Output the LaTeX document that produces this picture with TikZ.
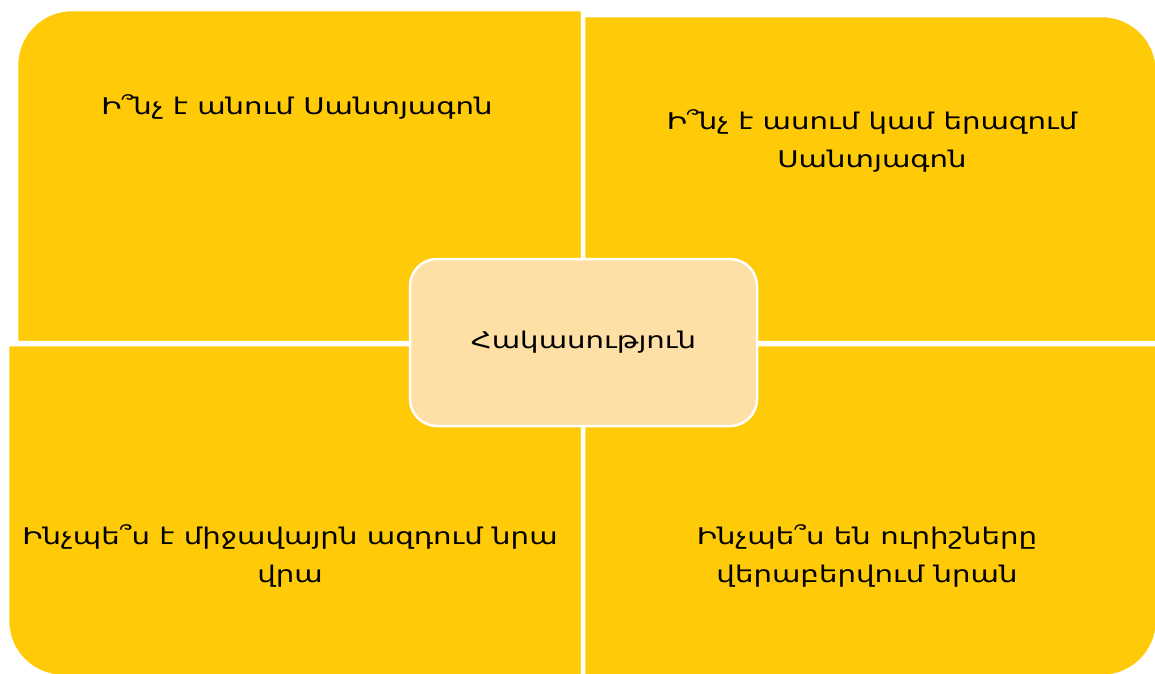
\documentclass[tikz,border=0pt]{standalone}
\usepackage{fontspec}
\setmainfont[FakeStretch=1.27]{DejaVu Sans}
\usepackage{tikz}

\definecolor{quadyellow}{RGB}{255,202,8}
\definecolor{hubyellow}{RGB}{254,224,166}

\tikzset{
  quad/.style={fill=quadyellow, draw=white, line width=2.5pt},
  hub/.style={rectangle, rounded corners=27pt, fill=hubyellow, draw=white, line width=2.5pt,
    minimum width=347pt, minimum height=167pt},
  quadtext/.style={align=center, font=\fontsize{23}{38}\selectfont, text=black}
}

\begin{document}
\begin{tikzpicture}[x=1pt, y=-1pt]
\useasboundingbox (0,0) rectangle (1155,673);

% draw quadrants
\draw[quad] (582,342) -- (17,342) [rounded corners=55pt] -- (17,10) [sharp corners] -- (582,10) -- cycle;
\draw[quad] (584,342) -- (584,16) [rounded corners=55pt] -- (1157,16) [sharp corners] -- (1157,342) -- cycle;
\draw[quad] (582,345) -- (8,345) [rounded corners=55pt] -- (8,676) [sharp corners] -- (582,676) -- cycle;
\draw[quad] (584,345) -- (584,676) [rounded corners=55pt] -- (1157,676) [sharp corners] -- (1157,345) -- cycle;

% quadrant texts
\node[quadtext] (what) at (297,107) {Ի՞նչ է անում Սանտյագոն};
\node[quadtext] (says) at (872,141) {Ի՞նչ է ասում կամ երազում\\Սանտյագոն};
\node[quadtext] (env) at (290,556) {Ինչպե՞ս է միջավայրն ազդում նրա\\վրա};
\node[quadtext] (others) at (867,556) {Ինչպե՞ս են ուրիշները\\վերաբերվում նրան};

% draw center box
\node[hub, quadtext] (conflict) at (583.5,342.5) {Հակասություն};

\end{tikzpicture}
\end{document}
